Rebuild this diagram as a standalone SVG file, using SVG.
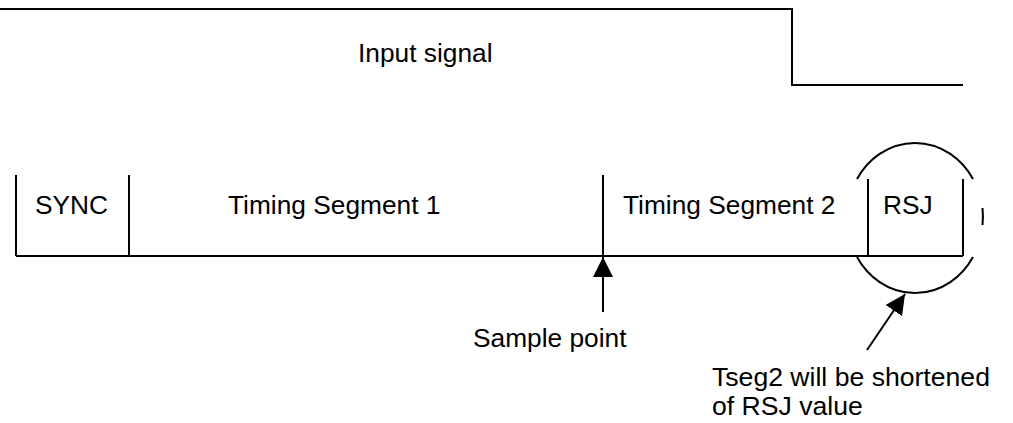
<svg xmlns="http://www.w3.org/2000/svg" width="1013" height="423" viewBox="0 0 1013 423">
<style>
.ln{fill:none;stroke:#000;stroke-width:2}
.t{font-family:"Liberation Sans",Arial,sans-serif;font-size:26.3px;fill:#000}
.n{font-size:26.6px}
</style>
<defs>
<marker id="ah" markerUnits="userSpaceOnUse" markerWidth="20" markerHeight="20" viewBox="0 0 20 20" refX="20" refY="10" orient="auto">
<path d="M0,0 L20,10 L0,20 Z" fill="#000"/>
</marker>
</defs>
<rect width="1013" height="423" fill="#fff"/>
<g id="signal">
<path class="ln" d="M0,9 H792 V85 H963"/>
<text class="t" x="358" y="62">Input signal</text>
</g>
<g id="sync">
<path class="ln" d="M16,175 V256 M129,175 V256"/>
<text class="t" x="35" y="214">SYNC</text>
</g>
<g id="tseg1">
<text class="t" x="228" y="214">Timing Segment 1</text>
</g>
<g id="tseg2">
<path class="ln" d="M603,175 V256"/>
<text class="t" x="623" y="214">Timing Segment 2</text>
</g>
<g id="rsj">
<path class="ln" d="M868,179 V256 M963,179 V256"/>
<text class="t" x="883" y="214">RSJ</text>
</g>
<g id="baseline">
<path class="ln" d="M16,256 H963"/>
</g>
<g id="ellipse">
<path class="ln" d="M857,179 A68,75.5 0 0 1 973,179"/>
<path class="ln" d="M857,257 A68,75.5 0 0 0 973,257"/>
<path class="ln" d="M982.5,208 A68,75.5 0 0 1 982.5,225"/>
</g>
<g id="connectors">
<path class="ln" d="M603,312 V257" marker-end="url(#ah)"/>
<path class="ln" d="M867,350 L905,294" marker-end="url(#ah)"/>
</g>
<g id="sample">
<text class="t" x="473" y="347">Sample point</text>
</g>
<g id="note">
<text class="t n" x="712" y="386">Tseg2 will be shortened</text>
<text class="t n" x="712" y="415">of RSJ value</text>
</g>
</svg>
